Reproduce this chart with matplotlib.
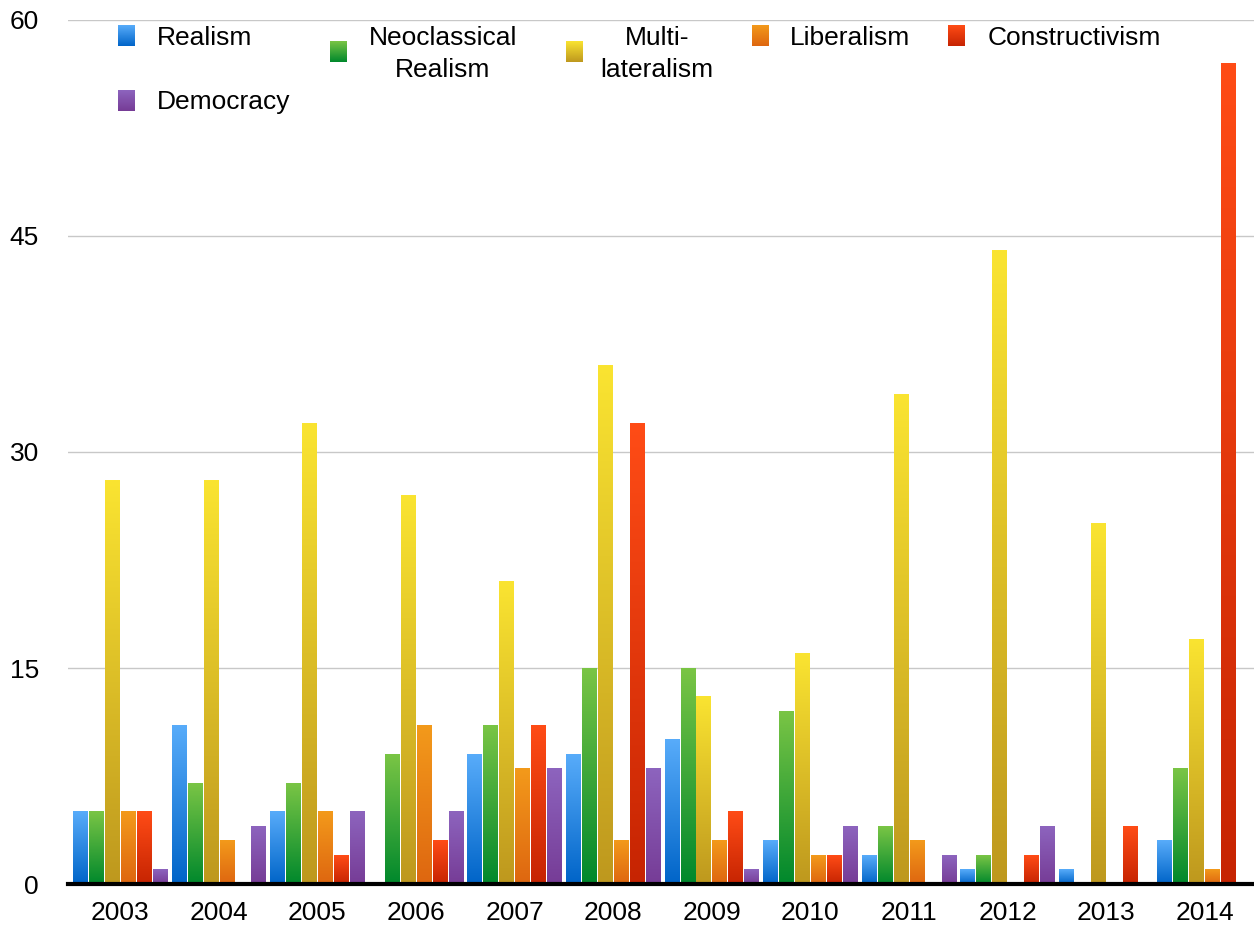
import numpy as np
import matplotlib
matplotlib.use("Agg")
import matplotlib.pyplot as plt
from matplotlib.colors import to_rgb

plt.rcParams['font.family'] = ['Liberation Sans', 'DejaVu Sans']

years = ['2003', '2004', '2005', '2006', '2007', '2008',
         '2009', '2010', '2011', '2012', '2013', '2014']
series = ['Realism', 'Neoclassical\nRealism', 'Multi-\nlateralism',
          'Liberalism', 'Constructivism', 'Democracy']

realism        = [5, 11, 5, 0, 9, 9, 10, 3, 2, 1, 1, 3]
neoclassical   = [5, 7, 7, 9, 11, 15, 15, 12, 4, 2, 0, 8]
multilateral   = [28, 28, 32, 27, 21, 36, 13, 16, 34, 44, 25, 17]
liberalism     = [5, 3, 5, 11, 8, 3, 3, 2, 3, 0, 0, 1]
constructivism = [5, 0, 2, 3, 11, 32, 5, 2, 0, 2, 4, 57]
democracy      = [1, 4, 5, 5, 8, 8, 1, 4, 2, 4, 0, 0]

values = [realism, neoclassical, multilateral, liberalism, constructivism, democracy]

# (top colour, bottom colour) for each series gradient
grads = [('#58ACFA', '#0064C8'),
         ('#7AC545', '#00882C'),
         ('#FAE431', '#BE981E'),
         ('#F39A1B', '#DE6610'),
         ('#FF4C16', '#C62402'),
         ('#8D64BE', '#763C96')]

FS = 19


def gradient(top, bottom, n=256):
    t = np.linspace(0, 1, n)[:, None]
    c0 = np.array(to_rgb(top))
    c1 = np.array(to_rgb(bottom))
    return (c0 * (1 - t) + c1 * t)[:, None, :]


fig = plt.figure(figsize=(12.54, 9.27), dpi=100)
ax = fig.add_axes([68 / 1254, 43 / 927, 1 - 68 / 1254, (884 - 20) / 927])

x = np.arange(len(years))
pitch = 0.162
width = 0.148
for i, vals in enumerate(values):
    bars = ax.bar(x + (i - 2.5) * pitch, vals, width, facecolor='none',
                  edgecolor='none', zorder=3)
    img = gradient(*grads[i])
    for b in bars:
        h = b.get_height()
        if h <= 0:
            continue
        ax.imshow(img, extent=(b.get_x(), b.get_x() + b.get_width(), 0, h),
                  aspect='auto', zorder=3, interpolation='bilinear')

ax.set_xlim(-0.53, 11.5)
ax.set_ylim(0, 60)
ax.set_aspect('auto')
ax.set_yticks([0, 15, 30, 45, 60])
ax.set_xticks(x)
ax.set_xticklabels(years)
ax.tick_params(axis='both', length=0, labelsize=FS)
ax.tick_params(axis='y', pad=21)
ax.tick_params(axis='x', pad=12)
ax.grid(axis='y', color='#C8C8C8', lw=1, zorder=0)
for s in ['top', 'right', 'left']:
    ax.spines[s].set_visible(False)
ax.spines['bottom'].set_linewidth(3)
ax.spines['bottom'].set_zorder(4)

# legend laid out by hand: swatch box (px) and label position (px)
legend_items = [
    (0, (118, 25), (157, 38), 'left'),
    (1, (330, 41), (443, 54), 'center'),
    (2, (566, 41), (657, 54), 'center'),
    (3, (752, 25), (790, 38), 'left'),
    (4, (948, 25), (988, 38), 'left'),
    (5, (118, 90), (157, 102), 'left'),
]
W, H = 1254, 927
for idx, (sx, sy), (tx, ty), ha in legend_items:
    sw = fig.add_axes([sx / W, 1 - (sy + 21) / H, 17 / W, 21 / H])
    sw.imshow(gradient(*grads[idx]), aspect='auto', interpolation='bilinear')
    sw.set_axis_off()
    fig.text(tx / W, 1 - ty / H, series[idx], ha=ha, va='center',
             fontsize=FS, linespacing=1.4, multialignment='center')

fig.savefig('out.png', dpi=100)
